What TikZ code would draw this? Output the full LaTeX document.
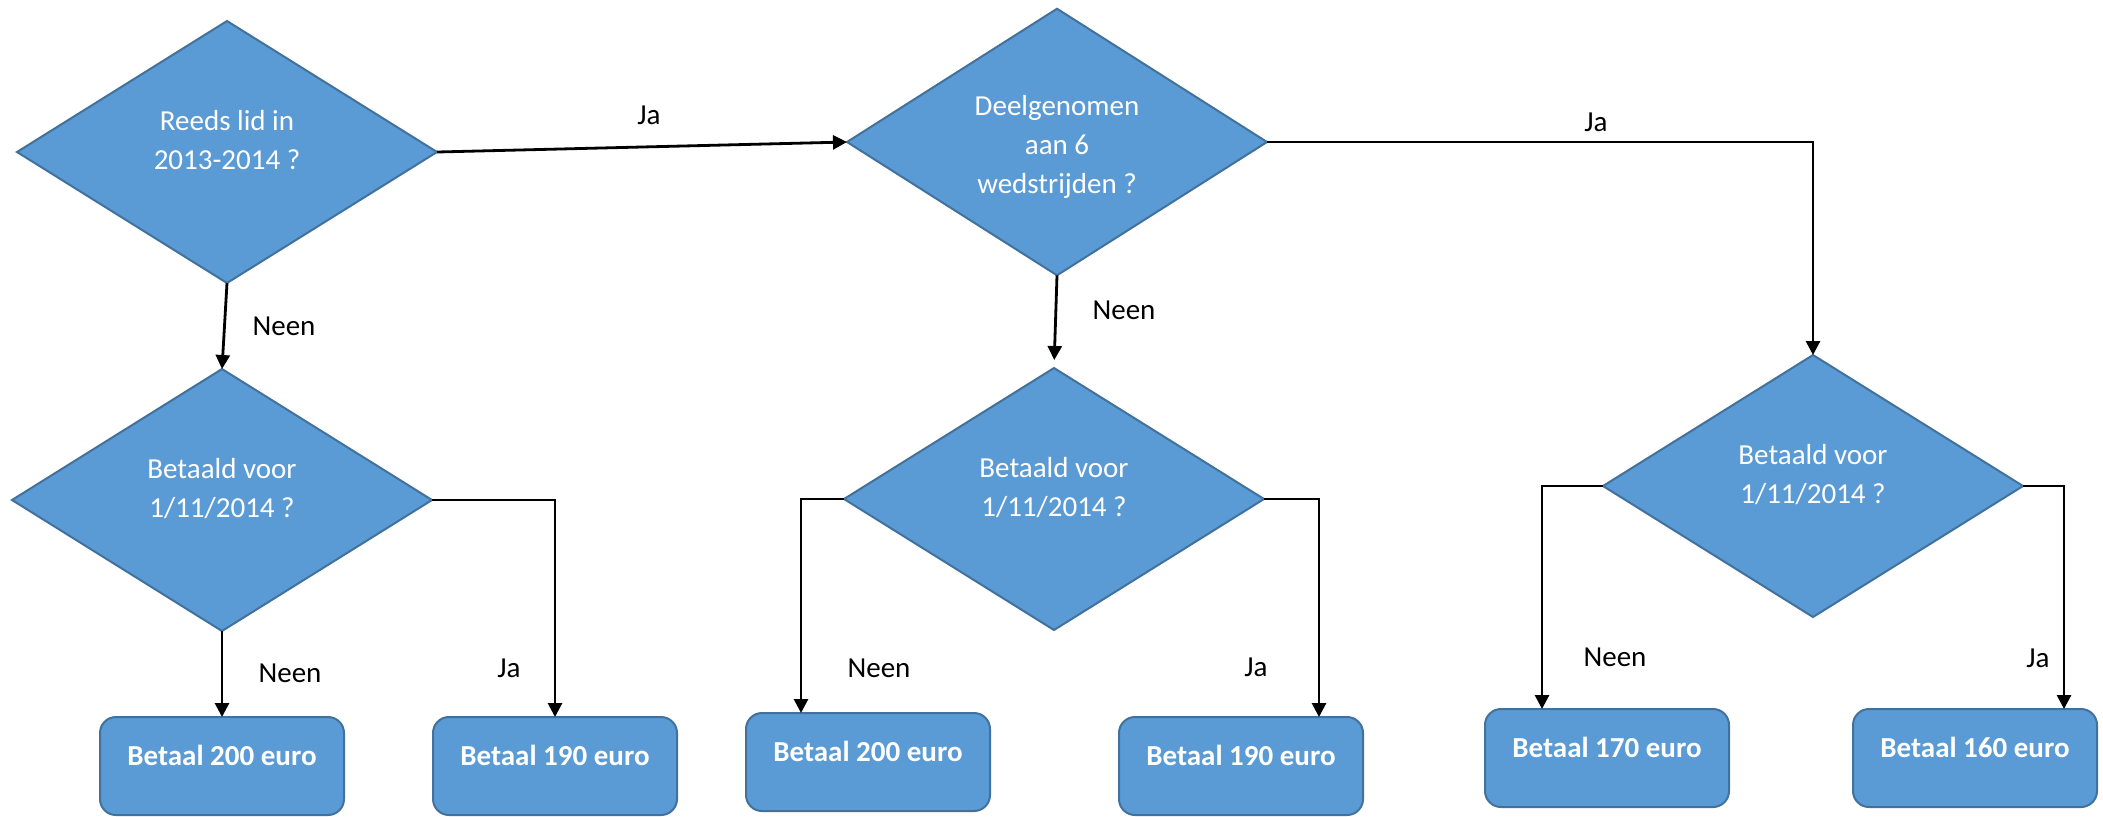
\documentclass[tikz,border=0pt]{standalone}
\usepackage{fontspec}
\setmainfont{Carlito}
\usepackage{tikz}
\usetikzlibrary{arrows.meta,positioning,shapes.geometric}

\definecolor{vakblauw}{RGB}{91,155,213}
\definecolor{randblauw}{RGB}{65,113,156}

\begin{document}
\begin{tikzpicture}[
        x=0.5pt, y=-0.5pt,
        font=\fontsize{14.5}{19.5}\selectfont,
        vraag/.style={diamond, draw=randblauw, fill=vakblauw, line width=1pt, text=white, align=center,
            minimum width=210pt, minimum height=131pt, inner sep=0pt, outer sep=0pt},
        tweeregels/.style={text height=20pt, text depth=2.6pt},
        drieregels/.style={text height=51pt, text depth=0pt},
        bedrag/.style={draw=randblauw, fill=vakblauw, line width=1pt, rounded corners=8pt, text=white,
            font=\fontsize{14.5}{19.5}\selectfont\bfseries, minimum width=122pt, minimum height=49pt,
            text height=7pt, text depth=7.5pt, outer sep=0pt},
        lbl/.style={inner sep=0pt},
        arr/.style={-{Triangle[length=7pt,width=7pt]}, line width=1.4pt}
    ]
    \useasboundingbox (0,0) rectangle (2103,816);
    % vragen
    \node[vraag, tweeregels] (lid)      at (227,152)  {Reeds lid in\\2013-2014 ?};
    \node[vraag, tweeregels] (betaaldA) at (222,500)  {Betaald voor\\1/11/2014 ?};
    \node[vraag, drieregels] (wedstr)   at (1057,142) {Deelgenomen\\aan 6\\wedstrijden ?};
    \node[vraag, tweeregels] (betaaldB) at (1054,499) {Betaald voor\\1/11/2014 ?};
    \node[vraag, tweeregels] (betaaldC) at (1813,486) {Betaald voor\\1/11/2014 ?};
    % bedragen
    \node[bedrag] (euroA) at (222,766)  {Betaal 200 euro};
    \node[bedrag] (euroB) at (555,766)  {Betaal 190 euro};
    \node[bedrag] (euroC) at (868,762)  {Betaal 200 euro};
    \node[bedrag] (euroD) at (1241,766) {Betaal 190 euro};
    \node[bedrag] (euroE) at (1607,758) {Betaal 170 euro};
    \node[bedrag] (euroF) at (1975,758) {Betaal 160 euro};
    % pijlen
    \draw[arr] (lid.south) -- (betaaldA.north);
    \draw[arr] (lid.east) -- (wedstr.west);
    \draw[arr] (betaaldA.south) -- (euroA.north);
    \draw[arr] (betaaldA.east) -| (euroB.north);
    \draw[arr, shorten >=4pt] (wedstr.south) -- (betaaldB.north);
    \draw[arr] (wedstr.east) -| (betaaldC.north);
    \draw[arr] (betaaldB.west) -| ([xshift=-33.5pt]euroC.north);
    \draw[arr] (betaaldB.east) -| ([xshift=39pt]euroD.north);
    \draw[arr] (betaaldC.west) -| ([xshift=-32.5pt]euroE.north);
    \draw[arr] (betaaldC.east) -| ([xshift=44.5pt]euroF.north);
    % labels
    \node[lbl] (neenA) at (284,326)  {Neen};
    \node[lbl] (jaA)   at (649,115)  {Ja};
    \node[lbl] (neenB) at (290,673)  {Neen};
    \node[lbl] (jaB)   at (509,668)  {Ja};
    \node[lbl] (neenC) at (1124,310) {Neen};
    \node[lbl] (jaC)   at (1596,122) {Ja};
    \node[lbl] (neenD) at (879,668)  {Neen};
    \node[lbl] (jaD)   at (1256,667) {Ja};
    \node[lbl] (neenE) at (1615,657) {Neen};
    \node[lbl] (jaE)   at (2038,658) {Ja};
\end{tikzpicture}
\end{document}
